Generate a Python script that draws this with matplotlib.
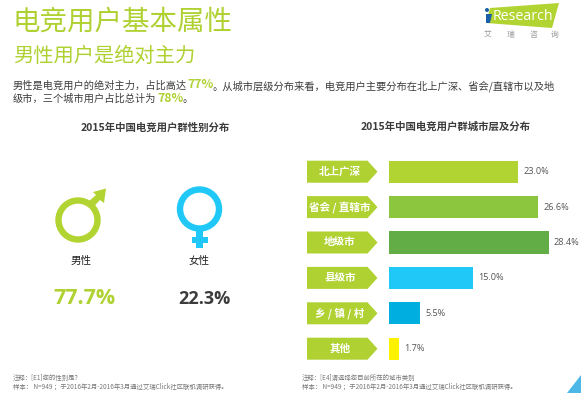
import matplotlib
matplotlib.use("Agg")
import matplotlib.pyplot as plt
from matplotlib.patches import Circle, Polygon, Rectangle

plt.rcParams['font.family'] = ['Noto Sans CJK SC', 'DejaVu Sans']

GENDER_LABELS = ["男性", "女性"]
GENDER_VALUES = ["77.7%", "22.3%"]
CITY_LABELS = ["北上广深", "省会 / 直辖市", "地级市", "县级市", "乡 / 镇 / 村", "其他"]
CITY_VALUES = [23.0, 26.6, 28.4, 15.0, 5.5, 1.7]
CITY_COLORS = ["#B2D432", "#8CC63E", "#63AD46", "#1FC8F6", "#00AEE0", "#FFF200"]

GREEN = "#AFD132"
BLUE = "#1FC8F6"
DARK = "#3C3C3C"

W, H = 581, 393
fig = plt.figure(figsize=(W / 100, H / 100), dpi=100, facecolor="white")

# overlay in pixel coords, y pointing down
bg = fig.add_axes([0, 0, 1, 1])
bg.set_xlim(0, W)
bg.set_ylim(H, 0)
bg.axis("off")

# header
bg.text(13, 22, "电竞用户基本属性", fontsize=19.8, color=GREEN, va="center")
bg.text(13, 56, "男性用户是绝对主力", fontsize=14.6, color=GREEN, va="center")

bg.text(13, 86, "男性是电竞用户的绝对主力，占比高达", fontsize=7.35, color=DARK, va="center")
bg.text(187, 85, "77%", fontsize=8.8, color=GREEN, va="center", fontweight="bold")
bg.text(213, 86, "。从城市层级分布来看，电竞用户主要分布在北上广深、省会/直辖市以及地", fontsize=7.4, color=DARK, va="center")
bg.text(13, 99, "级市，三个城市用户占比总计为", fontsize=7.35, color=DARK, va="center")
bg.text(157, 98, "78%", fontsize=8.8, color=GREEN, va="center", fontweight="bold")
bg.text(183, 99, "。", fontsize=7.35, color=DARK, va="center")

bg.text(155, 128, "2015年中国电竞用户群性别分布", fontsize=7.5, color=DARK, ha="center", va="center", fontweight="bold")
bg.text(446, 127, "2015年中国电竞用户群城市层及分布", fontsize=7.5, color=DARK, ha="center", va="center", fontweight="bold")

# logo
bg.add_patch(Polygon([(490, 8), (559, 3), (552, 28), (486, 23)], closed=True, fc="#B2D432", ec="none"))
bg.add_patch(Polygon([(486, 14), (492, 14), (490, 23), (486, 23)], closed=True, fc="#1B5FA8", ec="none"))
bg.add_patch(Circle((487, 10), 2, fc="#1B5FA8", ec="none"))
bg.text(493, 16, "Research", fontsize=10.2, color="white", va="center", family=["Open Sans", "DejaVu Sans"])
for x, ch in zip([488, 511, 533, 555], "艾瑞咨询"):
    bg.text(x, 35, ch, fontsize=5.6, color="#9A9A9A", ha="center", va="center")

# male symbol
bg.add_patch(Polygon([(88, 202), (93.5, 207), (100, 200), (104, 203), (106, 188.5), (93, 192), (96, 195)],
                     closed=True, fc="#B2D432", ec="none"))
bg.add_patch(Circle((78, 220), 19.5, fc="white", ec="#B2D432", lw=4.6))
# female symbol
bg.add_patch(Rectangle((195.5, 228), 7.5, 20, fc=BLUE, ec="none"))
bg.add_patch(Rectangle((191.5, 236.5), 16.5, 6, fc=BLUE, ec="none"))
bg.add_patch(Circle((199.5, 209), 19.5, fc="white", ec=BLUE, lw=4.6))

bg.text(81, 261, GENDER_LABELS[0], fontsize=7.6, color="#222222", ha="center", va="center")
bg.text(199, 261, GENDER_LABELS[1], fontsize=7.6, color="#222222", ha="center", va="center")
bg.text(84, 299, GENDER_VALUES[0], fontsize=15.5, color=GREEN, ha="center", va="center", fontweight="bold", family=["Open Sans", "DejaVu Sans"])
bg.text(204, 299, GENDER_VALUES[1], fontsize=13, color=DARK, ha="center", va="center", fontweight="bold", family=["Open Sans", "DejaVu Sans"])

# footnotes
bg.text(13, 378, "注释：[E1]您的性别是？", fontsize=4.6, color="#777777", va="center")
bg.text(13, 387, "样本： N=949 ；于2016年2月-2016年3月通过艾瑞Click社区联机调研获得。", fontsize=4.6, color="#777777", va="center")
bg.text(302, 378, "注释：[E4]请选择您目前所在的城市类别", fontsize=4.6, color="#777777", va="center")
bg.text(302, 387, "样本： N=949 ；于2016年2月-2016年3月通过艾瑞Click社区联机调研获得。", fontsize=4.6, color="#777777", va="center")

# corner triangle
bg.add_patch(Polygon([(567, 393), (581, 375), (581, 393)], closed=True, fc="#4DB8E8", ec="none"))

# bars, 5.62 px per percent, 35.4 px per row, rows centred from y=171.7
top, bottom = 154.0, 366.4
ax = fig.add_axes([389 / W, 1 - bottom / H, (W - 389) / W, (bottom - top) / H])
ax.patch.set_alpha(0)
ax.set_xlim(0, (W - 389) / 5.62)
ax.set_ylim(5.5, -0.5)
ax.axis("off")
ypos = list(range(len(CITY_VALUES)))
ax.barh(ypos, CITY_VALUES, height=0.63, color=CITY_COLORS)
for y, v in zip(ypos, CITY_VALUES):
    ax.text(v + 0.95, y, f"{v:.1f}%", fontsize=6.6, color="#555555", va="center", family=["Open Sans", "DejaVu Sans"])

# arrow-shaped labels, same row centres as the bars
for y, lab in zip(ypos, CITY_LABELS):
    yc = H - ax.transData.transform((0, y))[1]
    bg.add_patch(Polygon([(307, yc - 11), (367.5, yc - 11), (377.5, yc), (367.5, yc + 11), (307, yc + 11)],
                         closed=True, fc=GREEN, ec="none"))
    bg.text(340, yc, lab, fontsize=7.6, color="white", ha="center", va="center", fontweight="bold")

fig.savefig("out.png", dpi=100)
